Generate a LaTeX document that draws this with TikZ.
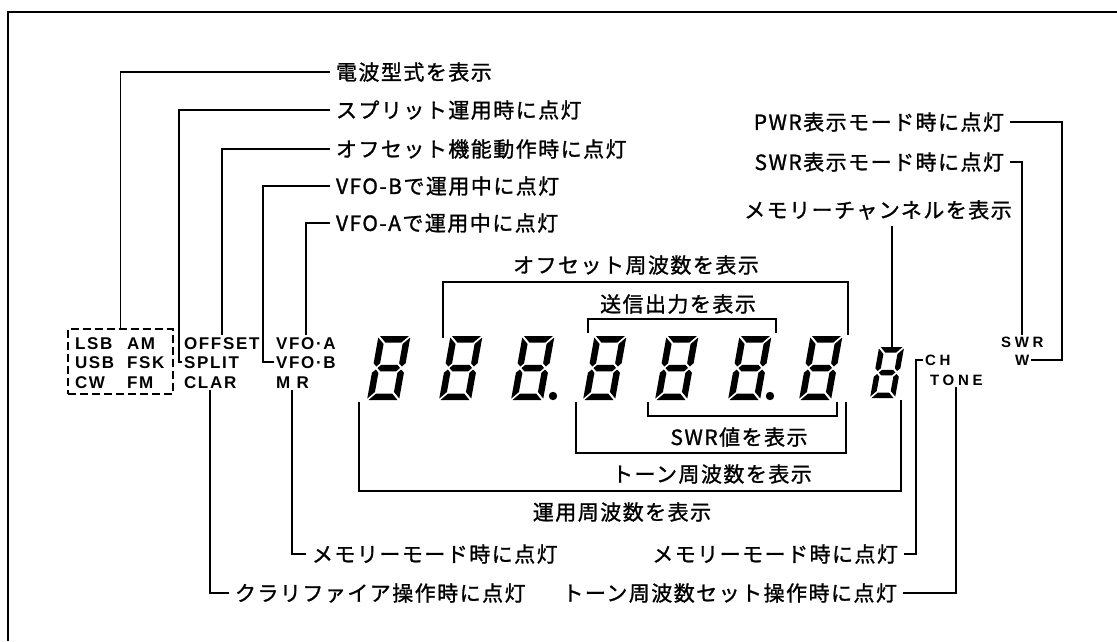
\documentclass[tikz,border=0pt]{standalone}
\usepackage{fontspec}
\newfontfamily\jpfont[LetterSpace=7,FakeBold=1.2]{Noto Sans CJK JP}
\newfontfamily\lcdfont[LetterSpace=10]{Liberation Sans}
\newfontfamily\lcdwfont[LetterSpace=25]{Liberation Sans}

\tikzset{
  conn/.style={line width=1.9pt},
  jp/.style={font=\jpfont\fontsize{21}{24}\selectfont, inner sep=0pt},
  lbw/.style={jp, anchor=west, outer xsep=6pt},
  lbe/.style={jp, anchor=east, outer xsep=6pt},
  lcd/.style={font=\lcdfont\bfseries\fontsize{17}{17}\selectfont, inner sep=0pt, outer sep=2pt, anchor=base west},
  lcdw/.style={font=\lcdwfont\bfseries\fontsize{15}{15}\selectfont, inner sep=0pt, outer sep=2pt, anchor=base west},
}

\newcommand{\sevseg}[6]{%
\begin{scope}[shift={(#1,#2)},x=1pt,y=1pt,xslant=#6]
\def\sgW{#3}\def\sgH{#4}\def\sgT{#5}\def\sgG{1.5}%
\pgfmathsetmacro\sgM{#4/2}\pgfmathsetmacro\sgh{#5/2}%
\fill (\sgG,\sgH) -- (\sgW-\sgG,\sgH) -- (\sgW-\sgT-\sgG,\sgH-\sgT) -- (\sgT+\sgG,\sgH-\sgT) -- cycle;
\fill (\sgG,0) -- (\sgW-\sgG,0) -- (\sgW-\sgT-\sgG,\sgT) -- (\sgT+\sgG,\sgT) -- cycle;
\fill (\sgh+\sgG,\sgM) -- (\sgT+\sgG,\sgM+\sgh) -- (\sgW-\sgT-\sgG,\sgM+\sgh) -- (\sgW-\sgh-\sgG,\sgM) -- (\sgW-\sgT-\sgG,\sgM-\sgh) -- (\sgT+\sgG,\sgM-\sgh) -- cycle;
\fill (0,\sgH-\sgG) -- (\sgT,\sgH-\sgT-\sgG) -- (\sgT,\sgM+\sgh+\sgG) -- (\sgh,\sgM+\sgG) -- (0,\sgM+\sgh+\sgG) -- cycle;
\fill (0,\sgG) -- (\sgT,\sgT+\sgG) -- (\sgT,\sgM-\sgh-\sgG) -- (\sgh,\sgM-\sgG) -- (0,\sgM-\sgh-\sgG) -- cycle;
\fill (\sgW,\sgH-\sgG) -- (\sgW-\sgT,\sgH-\sgT-\sgG) -- (\sgW-\sgT,\sgM+\sgh+\sgG) -- (\sgW-\sgh,\sgM+\sgG) -- (\sgW,\sgM+\sgh+\sgG) -- cycle;
\fill (\sgW,\sgG) -- (\sgW-\sgT,\sgT+\sgG) -- (\sgW-\sgT,\sgM-\sgh-\sgG) -- (\sgW-\sgh,\sgM-\sgG) -- (\sgW,\sgM-\sgh-\sgG) -- cycle;
\end{scope}}

\begin{document}
\begin{tikzpicture}[x=1pt,y=-1pt]
\useasboundingbox (0,0) rectangle (1117,641);
% frame
\draw[line width=1.5pt] (1117,12) -- (8,12) -- (8,641);

% ---------- LCD annunciator labels ----------
\node[draw, line width=1.6pt, dash pattern=on 8pt off 4pt, minimum width=105pt, minimum height=65pt, inner sep=0pt] (box) at (120.5,361.5) {};
\node[lcd] (lsb) at (73,349) {LSB};
\node[lcd] (usb) at (73,368) {USB};
\node[lcd] (cw) at (73,388) {CW};
\node[lcd] (am) at (125,349) {AM};
\node[lcd] (fsk) at (125,368) {FSK};
\node[lcd] (fm) at (125,388) {FM};
\node[lcd] (offset) at (182,349) {OFFSET};
\node[lcd] (split) at (182,368) {SPLIT};
\node[lcd] (clar) at (182,388) {CLAR};
\node[lcd] (vfoa) at (274,349) {VFO·A};
\node[lcd] (vfob) at (274,368) {VFO·B};
\node[lcd] (mr) at (274,388) {M R};

% ---------- upper-left labels ----------
\node[lbw] (t1) at (330,72) {電波型式を表示};
\node[lbw] (t2) at (330,110) {スプリット運用時に点灯};
\node[lbw] (t3) at (330,149) {オフセット機能動作時に点灯};
\node[lbw] (t4) at (330,186) {VFO-Bで運用中に点灯};
\node[lbw] (t5) at (330,223) {VFO-Aで運用中に点灯};

\coordinate (sph) at (179,0);
\coordinate (vbh) at (263,0);
\draw[conn] (t1.west) -| (box.north);
\draw[conn] (t2.west) -| (sph |- split.west) -- (split.west);
\draw[conn] (t3.west) -| (offset.north);
\draw[conn] (t4.west) -| (vbh |- vfob.west) -- (vfob.west);
\draw[conn] (t5.west) -| (vfoa.north);

% ---------- lower-left labels ----------
\node[lbw] (t6) at (306,554) {メモリーモード時に点灯};
\node[lbw] (t7) at (229,593) {クラリファイア操作時に点灯};
\draw[conn] (mr.south) |- (t6.west);
\draw[conn] (clar.south) |- (t7.west);

% ---------- digits ----------
\foreach \xx in {367,439,511,583,655,728,799}{\sevseg{\xx}{400}{32}{64}{6.5}{0.18}}
\sevseg{870}{398}{25}{51}{5.5}{0.18}
\fill (553,396) circle (4.2pt);
\fill (770,396) circle (4.2pt);

% ---------- brackets ----------
\node[jp] (toff) at (636,265) {オフセット周波数を表示};
\node[jp] (tsend) at (678,304) {送信出力を表示};
\node[jp] (tswrv) at (739,437) {SWR値を表示};
\node[jp] (ttone) at (712,474) {トーン周波数を表示};
\node[jp] (topf) at (622,512) {運用周波数を表示};
\draw[conn] (443,338) |- (848,282) -- (848,335);
\draw[conn] (588,333) |- (776,319) -- (776,333);
\draw[conn] (648,402) |- (837,416) -- (837,402);
\draw[conn] (576,402) |- (846,453) -- (846,402);
\draw[conn] (359,402) |- (901,491) -- (901,400);

% ---------- memory channel ----------
\node[jp, outer ysep=6pt] (tmc) at (878,210) {メモリーチャンネルを表示};
\coordinate (d8top) at (892,347);
\draw[conn] (d8top) -- (d8top |- tmc.south);

% ---------- PWR / SWR ----------
\node[lbe] (tpwr) at (1010,122) {PWR表示モード時に点灯};
\node[lbe] (tswr) at (1010,162) {SWR表示モード時に点灯};
\node[lcdw] (swrl) at (999,347) {SWR};
\node[lcdw] (wl) at (1013,365) {W};
\coordinate (pwrv) at (1062,0);
\draw[conn] (tpwr.east) -| (pwrv |- wl.east) -- (wl.east);
\draw[conn] (tswr.east) -| (swrl.north);

% ---------- CH / TONE ----------
\node[lcdw] (ch) at (923,365) {CH};
\node[lcdw] (tone) at (928,385) {TONE};
\node[lbe] (t8) at (904,554) {メモリーモード時に点灯};
\node[lbe] (t9) at (903,593) {トーン周波数セット操作時に点灯};
\coordinate (chv) at (916,0);
\draw[conn] (ch.west) -| (chv |- t8.east) -- (t8.east);
\draw[conn] (tone.south) |- (t9.east);
\end{tikzpicture}
\end{document}
